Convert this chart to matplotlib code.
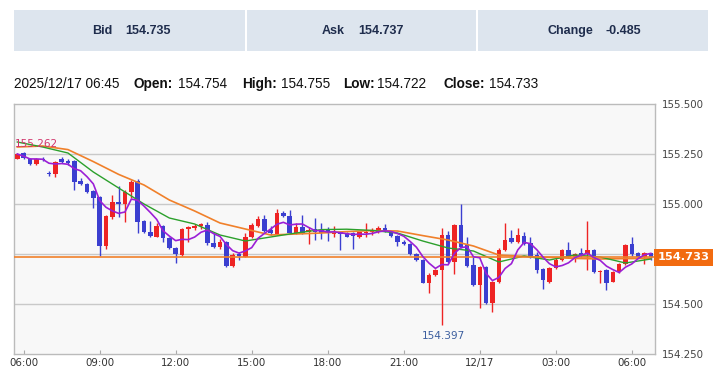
import matplotlib
matplotlib.use("Agg")
import matplotlib.pyplot as plt
from matplotlib.patches import Rectangle
import numpy as np
import pandas as pd

# ---------------- data (15-min candles, 05:45 -> 06:45 next day) ----------------
opens = [155.227, 155.253, 155.225, 155.200, 155.227, 155.155, 155.150, 155.227, 155.217, 155.215,
         155.117, 155.098, 155.065, 155.033, 154.790, 154.937, 155.008, 155.000, 155.058, 155.117,
         154.915, 154.862, 154.837, 154.890, 154.828, 154.778, 154.745, 154.873, 154.878, 154.890,
         154.895, 154.807, 154.783, 154.812, 154.690, 154.748, 154.737, 154.837, 154.890, 154.925,
         154.870, 154.848, 154.957, 154.940, 154.857, 154.883, 154.862, 154.873, 154.870, 154.870,
         154.848, 154.858, 154.853, 154.853, 154.837, 154.853, 154.858, 154.862, 154.878, 154.862,
         154.840, 154.812, 154.800, 154.750, 154.720, 154.607, 154.645, 154.670, 154.845, 154.712,
         154.895, 154.795, 154.695, 154.595, 154.687, 154.503, 154.608, 154.770, 154.828, 154.808,
         154.842, 154.803, 154.745, 154.675, 154.608, 154.682, 154.720, 154.770, 154.737, 154.753,
         154.748, 154.770, 154.662, 154.670, 154.612, 154.658, 154.698, 154.798, 154.753, 154.737,
         154.754]
highs = [155.253, 155.262, 155.228, 155.228, 155.233, 155.165, 155.217, 155.233, 155.225, 155.220,
         155.128, 155.103, 155.070, 155.040, 154.945, 155.045, 155.090, 155.068, 155.120, 155.123,
         154.920, 154.915, 154.903, 154.895, 154.837, 154.787, 154.878, 154.890, 154.898, 154.907,
         154.908, 154.853, 154.823, 154.817, 154.753, 154.762, 154.857, 154.903, 154.940, 154.945,
         154.890, 154.973, 154.965, 154.970, 154.903, 154.945, 154.887, 154.930, 154.903, 154.887,
         154.890, 154.862, 154.862, 154.862, 154.862, 154.903, 154.878, 154.890, 154.900, 154.867,
         154.845, 154.820, 154.803, 154.757, 154.723, 154.653, 154.675, 154.878, 154.865, 154.898,
         154.998, 154.837, 154.737, 154.690, 154.690, 154.615, 154.778, 154.903, 154.870, 154.882,
         154.862, 154.837, 154.762, 154.678, 154.687, 154.728, 154.775, 154.808, 154.757, 154.778,
         154.915, 154.775, 154.670, 154.675, 154.665, 154.703, 154.798, 154.837, 154.758, 154.758,
         154.755]
lows = [155.223, 155.225, 155.195, 155.197, 155.215, 155.140, 155.137, 155.203, 155.195, 155.070,
        155.095, 155.053, 154.978, 154.740, 154.773, 154.923, 154.937, 154.908, 155.028, 154.853,
        154.857, 154.833, 154.833, 154.812, 154.773, 154.703, 154.740, 154.812, 154.870, 154.873,
        154.795, 154.778, 154.775, 154.687, 154.687, 154.720, 154.735, 154.828, 154.887, 154.862,
        154.845, 154.845, 154.937, 154.853, 154.850, 154.850, 154.800, 154.820, 154.823, 154.815,
        154.833, 154.770, 154.837, 154.773, 154.828, 154.837, 154.845, 154.857, 154.862, 154.837,
        154.790, 154.795, 154.745, 154.715, 154.603, 154.557, 154.642, 154.397, 154.703, 154.648,
        154.782, 154.687, 154.592, 154.478, 154.498, 154.462, 154.603, 154.765, 154.803, 154.803,
        154.795, 154.732, 154.653, 154.573, 154.603, 154.675, 154.715, 154.732, 154.712, 154.737,
        154.670, 154.657, 154.603, 154.570, 154.608, 154.653, 154.695, 154.742, 154.732, 154.698,
        154.722]
closes = [155.250, 155.228, 155.198, 155.225, 155.218, 155.150, 155.210, 155.208, 155.207, 155.108,
          155.098, 155.062, 155.028, 154.790, 154.940, 155.008, 155.000, 155.062, 155.112, 154.912,
          154.862, 154.840, 154.890, 154.828, 154.778, 154.748, 154.873, 154.883, 154.892, 154.898,
          154.803, 154.783, 154.812, 154.690, 154.745, 154.742, 154.837, 154.895, 154.923, 154.867,
          154.853, 154.957, 154.942, 154.857, 154.887, 154.857, 154.870, 154.862, 154.857, 154.853,
          154.862, 154.848, 154.837, 154.840, 154.858, 154.862, 154.867, 154.878, 154.865, 154.840,
          154.812, 154.800, 154.748, 154.720, 154.607, 154.645, 154.670, 154.845, 154.712, 154.895,
          154.787, 154.692, 154.595, 154.687, 154.503, 154.608, 154.770, 154.820, 154.808, 154.845,
          154.798, 154.737, 154.670, 154.620, 154.682, 154.720, 154.770, 154.737, 154.748, 154.745,
          154.770, 154.662, 154.667, 154.603, 154.658, 154.698, 154.795, 154.748, 154.737, 154.753,
          154.733]

ma_idx = list(range(0, 101, 4))
ma_green = [155.310, 155.285, 155.255, 155.160, 155.080, 155.000, 154.930, 154.900, 154.845,
            154.815, 154.835, 154.855, 154.872, 154.874, 154.868, 154.855, 154.815, 154.780,
            154.765, 154.710, 154.740, 154.720, 154.745, 154.735, 154.705, 154.725]
ma_orange = [155.285, 155.290, 155.272, 155.212, 155.148, 155.095, 155.020, 154.965, 154.905,
             154.875, 154.845, 154.850, 154.855, 154.862, 154.867, 154.865, 154.842, 154.820,
             154.790, 154.745, 154.738, 154.733, 154.728, 154.725, 154.727, 154.728]
short_period = 5

tick_pos = [1, 13, 25, 37, 49, 61, 73, 85, 97]
tick_labels = ["06:00", "09:00", "12:00", "15:00", "18:00", "21:00", "12/17", "03:00", "06:00"]
y_ticks = [154.25, 154.50, 155.00, 155.25, 155.50]
grid_levels = [154.50, 154.75, 155.00, 155.25]

bid, ask, change = "154.735", "154.737", "-0.485"
info_time = "2025/12/17 06:45"
info_open, info_high, info_low, info_close = "154.754", "154.755", "154.722", "154.733"
last_price = 154.733
max_high_label, min_low_label = "155.262", "154.397"

# ---------------- figure ----------------
W, H = 720, 372
fig = plt.figure(figsize=(W / 100, H / 100), dpi=100)
fig.patch.set_facecolor("white")

def fx(px):
    return px / W

def fy(py):
    return 1 - py / H

# header boxes
box_color = "#dde5ee"
for x0, x1 in [(14, 245), (247, 476), (478, 708)]:
    fig.patches.append(Rectangle((fx(x0), fy(51)), fx(x1 - x0), (51 - 10) / H,
                                 transform=fig.transFigure, facecolor=box_color,
                                 edgecolor="none", zorder=0))
hdr_font = dict(family=["Liberation Sans", "DejaVu Sans"], fontsize=9, fontweight="bold",
                color="#1f2d4d", va="center")
fig.text(fx(92), fy(31), "Bid", ha="left", **hdr_font)
fig.text(fx(125), fy(31), bid, ha="left", **hdr_font)
fig.text(fx(322), fy(31), "Ask", ha="left", **hdr_font)
fig.text(fx(358), fy(31), ask, ha="left", **hdr_font)
fig.text(fx(548), fy(31), "Change", ha="left", **hdr_font)
fig.text(fx(605), fy(31), change, ha="left", **hdr_font)

# info line
inf = dict(family=["Liberation Sans", "DejaVu Sans"], fontsize=9.8, color="#111111", va="center")
fig.text(fx(14), fy(84), info_time, ha="left", **inf)
for lx, lab, vx, val in [(134, "Open:", 178, info_open), (242, "High:", 281, info_high),
                         (343, "Low:", 377, info_low), (443, "Close:", 489, info_close)]:
    fig.text(fx(lx), fy(84), lab, ha="left", fontweight="bold", **inf)
    fig.text(fx(vx), fy(84), val, ha="left", **inf)

# chart axes
ax = fig.add_axes([fx(14), fy(354), fx(655 - 14), (354 - 104) / H])
ax.set_facecolor("#f8f8f8")
idx = np.arange(len(closes))
o = np.array(opens); c = np.array(closes); hi = np.array(highs); lo = np.array(lows)
up = c >= o
red, blue = "#ee2424", "#3b3fd0"
cols = np.where(up, red, blue)

for lvl in grid_levels:
    ax.axhline(lvl, color="#c9c9c9", lw=1.0, zorder=1)

ax.vlines(idx, lo, hi, colors=cols, lw=1.0, zorder=3)
body_bot = np.minimum(o, c)
body_h = np.maximum(np.abs(c - o), 0.003)
ax.bar(idx, body_h, bottom=body_bot, width=0.7, color=cols, edgecolor="none", zorder=3)

# moving averages
ma_short = pd.Series(closes).rolling(short_period, min_periods=1).mean()
ax.plot(ma_idx, ma_orange, color="#f0802a", lw=1.2, zorder=4)
ax.plot(ma_idx, ma_green, color="#2ca02c", lw=1.0, zorder=4)
ax.plot(idx, ma_short, color="#9b1fd6", lw=1.2, zorder=5)

# last price line and label
ax.axhline(last_price, color="#f0802a", lw=1.2, zorder=4)
ax.text(1.004, last_price, f"{last_price:.3f}", transform=ax.get_yaxis_transform(),
        ha="left", va="center", color="white", fontsize=8.2, fontweight="bold",
        family="DejaVu Sans", zorder=10, clip_on=False,
        bbox=dict(boxstyle="square,pad=0.33", fc="#f26b10", ec="none"))

# high/low annotations
hmax = int(np.argmax(hi)); lmin = int(np.argmin(lo))
ax.text(hmax - 1.4, hi[hmax] + 0.04, max_high_label, color="#d1356b", fontsize=7.6,
        ha="left", va="center", family="DejaVu Sans", zorder=6)
ax.text(lmin + 0.3, lo[lmin] - 0.055, min_low_label, color="#3d5f9f", fontsize=7.6,
        ha="center", va="center", family="DejaVu Sans", zorder=6)

ax.set_xlim(-0.52, 100.66)
ax.set_ylim(154.25, 155.5)
ax.yaxis.tick_right()
ax.set_yticks(y_ticks)
ax.set_yticklabels([f"{v:.3f}" for v in y_ticks], fontsize=7.4, color="#444444",
                   family="DejaVu Sans")
ax.tick_params(axis="y", length=0, pad=5)
ax.set_xticks(tick_pos)
ax.set_xticklabels(tick_labels, fontsize=7.4, color="#333333", family="DejaVu Sans")
ax.tick_params(axis="x", direction="in", length=3, color="#aaaaaa", pad=3)
for s in ax.spines.values():
    s.set_color("#bbbbbb")
    s.set_linewidth(1.0)

fig.savefig("out.png", dpi=100, facecolor="white")
